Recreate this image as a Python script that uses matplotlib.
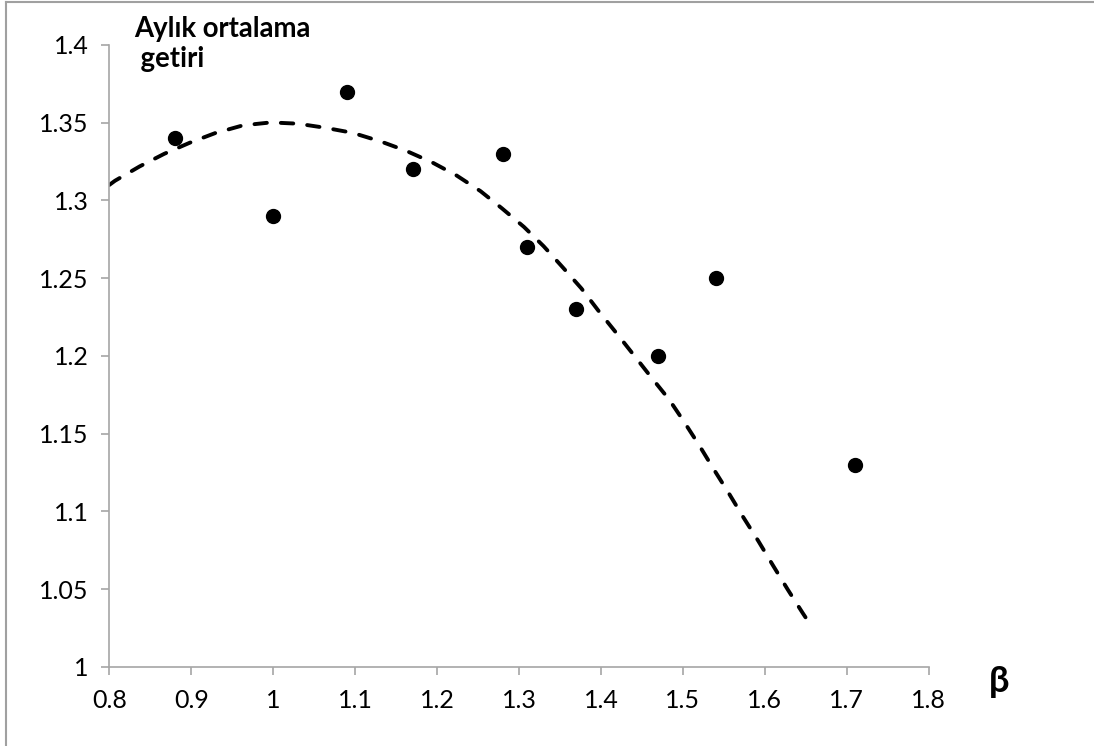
import numpy as np
import matplotlib
matplotlib.use('Agg')
import matplotlib.pyplot as plt
from matplotlib.lines import Line2D

plt.rcParams['font.family'] = ['Lato', 'DejaVu Sans']

# scatter data (beta, monthly mean return)
beta = [0.88, 1.00, 1.09, 1.17, 1.28, 1.31, 1.37, 1.47, 1.54, 1.71]
getiri = [1.34, 1.29, 1.37, 1.32, 1.33, 1.27, 1.23, 1.20, 1.25, 1.13]

# trend curve
trend_x = [0.800, 0.807, 0.837, 0.867, 0.898, 0.929, 0.963, 0.997, 1.030,
           1.063, 1.097, 1.131, 1.162, 1.194, 1.224, 1.253, 1.279, 1.306,
           1.330, 1.354, 1.376, 1.397, 1.419, 1.440, 1.461, 1.483, 1.501,
           1.520, 1.538, 1.556, 1.574, 1.592, 1.610, 1.628, 1.646, 1.652]
trend_y = [1.310, 1.3127, 1.3219, 1.330, 1.3371, 1.3433, 1.3483, 1.3502,
           1.3494, 1.3468, 1.3435, 1.338, 1.332, 1.3245, 1.316, 1.306,
           1.295, 1.283, 1.2706, 1.2566, 1.2435, 1.229, 1.2146, 1.2006,
           1.1865, 1.1721, 1.158, 1.1424, 1.1268, 1.1117, 1.096, 1.081,
           1.0652, 1.0497, 1.0348, 1.030]

xticks = [0.8, 0.9, 1.0, 1.1, 1.2, 1.3, 1.4, 1.5, 1.6, 1.7, 1.8]
xlabels = ['0.8', '0.9', '1', '1.1', '1.2', '1.3', '1.4', '1.5', '1.6', '1.7', '1.8']
yticks = [1.0, 1.05, 1.1, 1.15, 1.2, 1.25, 1.3, 1.35, 1.4]
ylabels = ['1', '1.05', '1.1', '1.15', '1.2', '1.25', '1.3', '1.35', '1.4']

fig = plt.figure(figsize=(10.94, 7.46), dpi=100)
ax = fig.add_axes([0.0999, 0.1059, 0.7491, 0.8338])

ax.plot(trend_x, trend_y, color='black', lw=2.8, linestyle=(0, (3.2, 3.6)),
        dash_capstyle='round', solid_joinstyle='round', zorder=2)
ax.plot(beta, getiri, 'o', color='black', ms=10, zorder=3)

ax.set_xlim(0.8, 1.8)
ax.set_ylim(1.0, 1.4)
ax.set_xticks(xticks)
ax.set_xticklabels(xlabels)
ax.set_yticks(yticks)
ax.set_yticklabels(ylabels)

gray = '#a6a6a6'
for s in ['top', 'right']:
    ax.spines[s].set_visible(False)
for s in ['left', 'bottom']:
    ax.spines[s].set_color(gray)
    ax.spines[s].set_linewidth(1.2)
ax.tick_params(axis='both', direction='out', length=6, width=1.2, color=gray,
               labelsize=18, labelcolor='black')
ax.tick_params(axis='x', pad=10)
ax.tick_params(axis='y', pad=9)

fig.text(0.1225, 0.941, 'Aylık ortalama\n getiri', fontsize=19.8,
         fontweight='bold', ha='left', va='center', linespacing=1.2)
fig.text(0.9136, 0.0858, 'β', fontsize=26, fontweight='bold',
         family=['Lato', 'DejaVu Sans'], ha='center', va='center')

# outer frame (top and left edges visible)
fig.add_artist(Line2D([0.0055, 1.0], [0.9973, 0.9973], color='#a0a0a0', lw=1.5))
fig.add_artist(Line2D([0.0055, 0.0055], [0.0, 0.9973], color='#a0a0a0', lw=1.5))

fig.savefig('out.png', dpi=100)
